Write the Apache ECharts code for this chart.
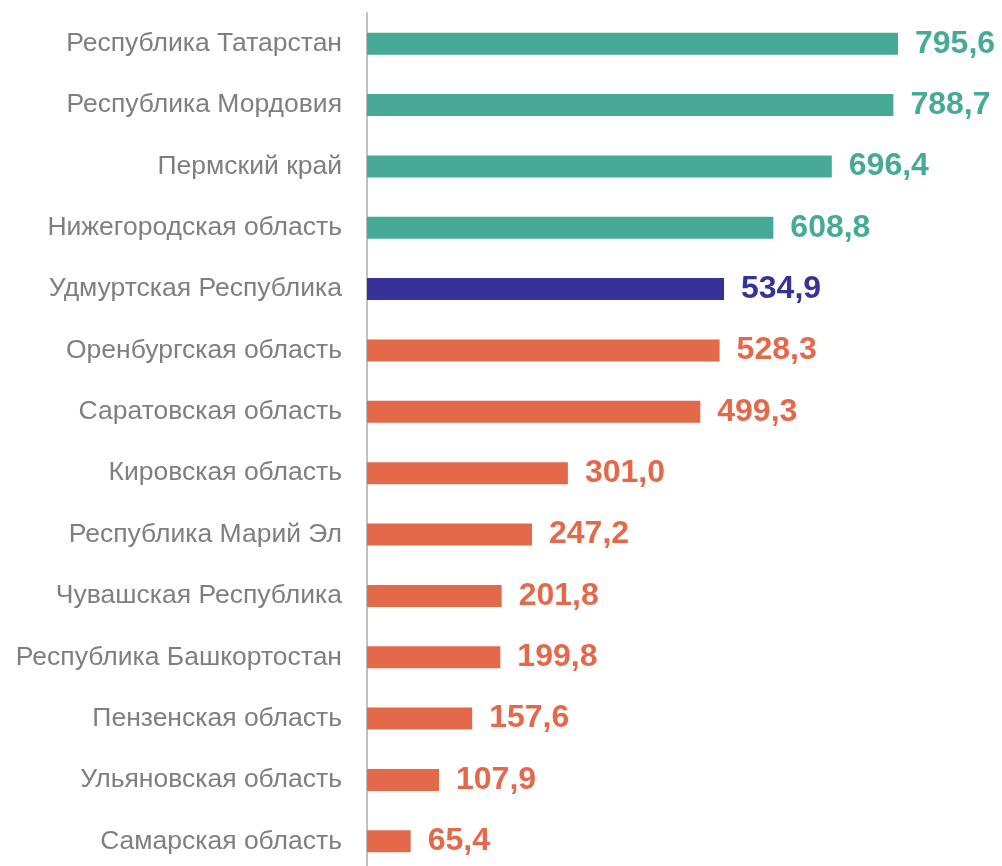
<!DOCTYPE html>
<html lang="ru">
<head>
    <meta charset="UTF-8">
    <title>Регионы</title>
    <style>
        html, body { margin: 0; padding: 0; background: #fff; }
    </style>
</head>
<body>
<div id="myChart" style="width: 1002px;height: 866px;"></div>
<script src="https://cdn.jsdelivr.net/npm/echarts@6/dist/echarts.min.js"></script>
<script>
    var regions = [
        "Республика Татарстан",
        "Республика Мордовия",
        "Пермский край",
        "Нижегородская область",
        "Удмуртская Республика",
        "Оренбургская область",
        "Саратовская область",
        "Кировская область",
        "Республика Марий Эл",
        "Чувашская Республика",
        "Республика Башкортостан",
        "Пензенская область",
        "Ульяновская область",
        "Самарская область"
    ];
    var values = [795.6, 788.7, 696.4, 608.8, 534.9, 528.3, 499.3, 301.0, 247.2, 201.8, 199.8, 157.6, 107.9, 65.4];
    // группа: 0 - выше, 1 - Удмуртия, 2 - ниже
    var groups = [0, 0, 0, 0, 1, 2, 2, 2, 2, 2, 2, 2, 2, 2];
    var colors = ["#46AA97", "#363297", "#E4694A"];

    var myChart = echarts.init(document.getElementById("myChart"));

    var option = {
        animation: false,
        grid: {
            left: 367,
            top: 13,
            width: 600.7,
            height: 859,
            outerBoundsMode: "none"
        },
        xAxis: {
            type: "value",
            min: 0,
            max: 900,
            show: false
        },
        yAxis: {
            type: "category",
            inverse: true,
            data: regions,
            axisLine: { show: true, lineStyle: { color: "#c0c0c0", width: 2 } },
            axisTick: { show: false },
            axisLabel: {
                margin: 25,
                color: "#7f7f7f",
                fontSize: 26.5,
                fontFamily: "Liberation Sans"
            }
        },
        series: [{
            type: "bar",
            barWidth: 22,
            data: values.map(function (v, i) {
                var c = colors[groups[i]];
                return {
                    value: v,
                    itemStyle: { color: c },
                    label: { color: c }
                };
            }),
            label: {
                show: true,
                position: "right",
                distance: 17,
                fontSize: 32,
                fontWeight: "bold",
                fontFamily: "Liberation Sans",
                formatter: function (p) {
                    return p.value.toFixed(1).replace(".", ",");
                }
            }
        }]
    };
    myChart.setOption(option);
</script>
</body>
</html>
